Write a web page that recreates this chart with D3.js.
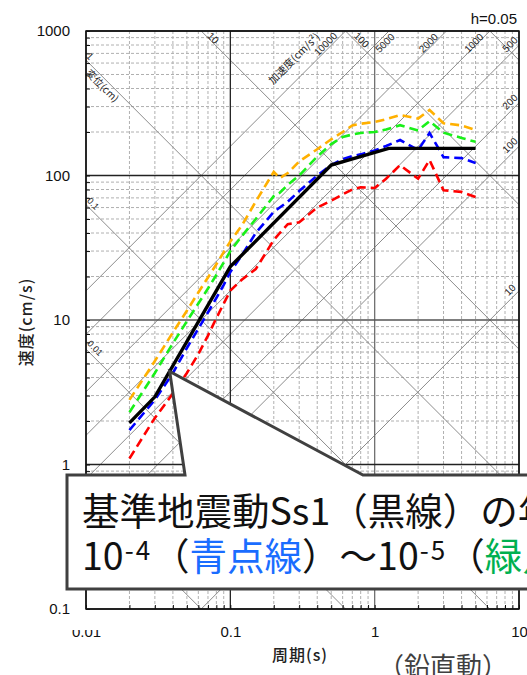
<!DOCTYPE html>
<html>
<head>
<meta charset="utf-8">
<script src="https://cdn.jsdelivr.net/npm/d3@7"></script>
<style>
  body { margin: 0; background: #fff; }
  svg { display: block; }
  .tick text { font-family: "Liberation Sans", Arial, sans-serif; }
</style>
</head>
<body>
<div id="chart"></div>
<script>
// periodes (s) communes aux spectres calcules
const periods = [0.02, 0.03, 0.04, 0.05, 0.06, 0.07, 0.08, 0.09, 0.1, 0.12, 0.15, 0.2, 0.22, 0.25,
  0.3, 0.4, 0.5, 0.6, 0.7, 0.8, 1.0, 1.2, 1.5, 2.0, 2.4, 3.0, 4.0, 5.0];

// vitesses (cm/s)
const velOrange = [2.8, 5.2, 8.2, 11.6, 15.5, 19.7, 24.3, 29.5, 35, 45, 66, 106, 96, 104,
  125, 152, 178, 200, 222, 228, 235, 245, 262, 248, 284, 230, 222, 207];
const velGreen = [2.3, 4.3, 6.9, 9.8, 13, 16.5, 20.5, 25, 30, 38, 50, 72, 76, 86,
  100, 135, 165, 185, 192, 197, 200, 208, 223, 205, 238, 198, 182, 171];
const velBlue = [1.73, 2.8, 4.3, 6.4, 8.7, 11.3, 14.2, 17.5, 21.5, 28, 40, 56, 60, 66,
  78, 100, 118, 130, 136, 140, 149, 160, 176, 150, 197, 134, 132, 122];
const velRed = [1.1, 2.1, 3.1, 4.3, 5.8, 7.8, 10.3, 13, 16, 19, 22.5, 35.8, 40, 46,
  47.5, 60, 67, 74, 80, 83, 82, 95, 118, 95, 128, 79, 77, 71];

// spectre de dimensionnement Ss1 (trait noir)
const periodsSs1 = [0.02, 0.03, 0.1, 0.5, 1.25, 5.0];
const velSs1 = [1.94, 2.94, 23.4, 118, 154, 154];

// axes
const xTickLabels = ['0.01', '0.1', '1', '10'];
const yTickLabels = ['0.1', '1', '10', '100', '1000'];

// droites diagonales : deplacement (cm) et acceleration (cm/s2)
const dispLines = [0.001, 0.01, 0.1, 1, 10, 100, 1000];
const accLines = [10, 100, 200, 500, 1000, 2000, 5000, 10000];

const W = 527, H = 675;
const margin = { top: 31, right: 8, bottom: 66, left: 86 };
const width = 433;
const height = 578;

const svg = d3.select('#chart').append('svg')
  .attr('width', W).attr('height', H);

const x = d3.scaleLog().domain([0.01, 10]).range([0, width]);
const y = d3.scaleLog().domain([0.1, 1000]).range([height, 0]);

const g = svg.append('g')
  .attr('transform', 'translate(' + margin.left + ',' + margin.top + ')');

const defs = svg.append('defs');
defs.append('clipPath').attr('id', 'plotclip')
  .append('rect').attr('width', width).attr('height', height);
// le haut du libelle 0.01 est masque dans l'original
defs.append('clipPath').attr('id', 'labelclip')
  .append('rect').attr('x', -30).attr('y', 21).attr('width', 60).attr('height', 30);

const isMajor = d => Math.abs(Math.log10(d) - Math.round(Math.log10(d))) < 1e-6;

// grille secondaire (tirets)
const xGrid = x.ticks();
const yGrid = y.ticks();

g.append('g').selectAll('line').data(xGrid.filter(d => !isMajor(d)))
  .enter().append('line')
  .attr('x1', d => x(d)).attr('x2', d => x(d))
  .attr('y1', 0).attr('y2', height)
  .attr('stroke', '#b0b0b0').attr('stroke-width', 1).attr('stroke-dasharray', '3,2');

g.append('g').selectAll('line').data(yGrid.filter(d => !isMajor(d)))
  .enter().append('line')
  .attr('x1', 0).attr('x2', width)
  .attr('y1', d => y(d)).attr('y2', d => y(d))
  .attr('stroke', '#b0b0b0').attr('stroke-width', 1).attr('stroke-dasharray', '3,2');

// droites diagonales
const diag = g.append('g').attr('clip-path', 'url(#plotclip)');
const tMin = 0.001, tMax = 100;
diag.selectAll('.disp').data(dispLines).enter().append('line')
  .attr('class', 'disp')
  .attr('x1', x(tMin)).attr('y1', d => y(2 * Math.PI * d / tMin))
  .attr('x2', x(tMax)).attr('y2', d => y(2 * Math.PI * d / tMax))
  .attr('stroke', '#8c8c8c').attr('stroke-width', 1);
diag.selectAll('.acc').data(accLines).enter().append('line')
  .attr('class', 'acc')
  .attr('x1', x(tMin)).attr('y1', d => y(d * tMin / (2 * Math.PI)))
  .attr('x2', x(tMax)).attr('y2', d => y(d * tMax / (2 * Math.PI)))
  .attr('stroke', '#8c8c8c').attr('stroke-width', 1);

// grille principale
g.append('g').selectAll('line').data(xGrid.filter(isMajor))
  .enter().append('line')
  .attr('x1', d => x(d)).attr('x2', d => x(d))
  .attr('y1', 0).attr('y2', height)
  .attr('stroke', d => d === 1 ? '#707070' : '#222').attr('stroke-width', 1.3);
g.append('g').selectAll('line').data(yGrid.filter(isMajor))
  .enter().append('line')
  .attr('x1', 0).attr('x2', width)
  .attr('y1', d => y(d)).attr('y2', d => y(d))
  .attr('stroke', d => d === 10 ? '#555' : '#222').attr('stroke-width', 1.3);

// etiquettes des diagonales
const small = '"Liberation Sans", Arial, sans-serif';
const cjk = '"Noto Sans CJK JP", sans-serif';
function diagLabel(px, py, angle, txt, font, size) {
  return g.append('text')
    .attr('transform', 'translate(' + px + ',' + py + ') rotate(' + angle + ')')
    .attr('text-anchor', 'middle').attr('dominant-baseline', 'central')
    .style('font-family', font).style('font-size', size + 'px').attr('fill', '#222')
    .text(txt);
}
// deplacement : bord gauche ou bord haut
diagLabel(4, y(2 * Math.PI * 1 / 0.01) - 4, 45, '1', small, 10);
diagLabel(17, y(2 * Math.PI * 1 / 0.01) + 25, 45, '変位(cm)', cjk, 10);
diagLabel(7, y(2 * Math.PI * 0.1 / 0.01) - 1, 45, '0.1', small, 9);
diagLabel(9, y(2 * Math.PI * 0.01 / 0.01) - 1, 45, '0.01', small, 9);
diagLabel(x(2 * Math.PI * 10 / 1000) + 12, 7, 45, '10', small, 10);
diagLabel(x(2 * Math.PI * 100 / 1000) + 16, 9, 45, '100', small, 10);
// acceleration : bord haut
diagLabel(x(1000 * 2 * Math.PI / 10000) - 20, 13, -45, '10000', small, 10);
diagLabel(x(1000 * 2 * Math.PI / 10000) - 52, 27, -45, '加速度(cm/s²)', cjk, 10.5);
diagLabel(x(1000 * 2 * Math.PI / 5000) - 4, 12, -45, '5000', small, 10);
diagLabel(x(1000 * 2 * Math.PI / 2000) - 18, 12, -45, '2000', small, 10);
diagLabel(x(1000 * 2 * Math.PI / 1000) - 16, 12, -45, '1000', small, 10);
// acceleration : bord droit
[500, 200, 100, 10].forEach(a => {
  diagLabel(width - 9, y(a * 10 / (2 * Math.PI)) - 1, -45, String(a), small, 10);
});

// courbes
const line = d3.line()
  .x(d => x(d[0]))
  .y(d => y(d[1]));

const curves = [
  { v: velOrange, color: '#ffb000' },
  { v: velGreen, color: '#19f019' },
  { v: velBlue, color: '#0000ff' },
  { v: velRed, color: '#ff0000' }
];
const curveG = g.append('g').attr('clip-path', 'url(#plotclip)');
curves.forEach(c => {
  curveG.append('path')
    .datum(periods.map((p, i) => [p, c.v[i]]))
    .attr('fill', 'none')
    .attr('stroke', c.color)
    .attr('stroke-width', 2.6)
    .attr('stroke-dasharray', '9,5')
    .attr('d', line);
});
curveG.append('path')
  .datum(periodsSs1.map((p, i) => [p, velSs1[i]]))
  .attr('fill', 'none')
  .attr('stroke', '#000')
  .attr('stroke-width', 3.4)
  .attr('d', line);

// cadre
g.append('rect').attr('width', width).attr('height', height)
  .attr('fill', 'none').attr('stroke', '#111').attr('stroke-width', 1.5);

// axe Y
const yAxis = g.append('g')
  .call(d3.axisLeft(y).tickValues(yGrid).tickSize(-4).tickPadding(16)
    .tickFormat(d => isMajor(d) ? yTickLabels[Math.round(Math.log10(d)) + 1] : ''));
yAxis.select('.domain').remove();
yAxis.selectAll('.tick line').attr('stroke', '#111');
yAxis.selectAll('text').style('font-size', '15px').attr('fill', '#111');

// axe X
const xAxis = g.append('g')
  .attr('transform', 'translate(0,' + height + ')')
  .call(d3.axisBottom(x).tickValues(xGrid).tickSize(-4).tickPadding(17)
    .tickFormat(d => isMajor(d) ? xTickLabels[Math.round(Math.log10(d)) + 2] : ''));
xAxis.select('.domain').remove();
xAxis.selectAll('.tick line').attr('stroke', '#111');
xAxis.selectAll('text').style('font-size', '15px').attr('fill', '#111');
xAxis.selectAll('.tick').filter(d => d === 0.01).select('text')
  .attr('clip-path', 'url(#labelclip)');

// titres
svg.append('text')
  .attr('transform', 'translate(32,' + (margin.top + y(10) + 2) + ') rotate(-90)')
  .attr('text-anchor', 'middle')
  .style('font-family', cjk).style('font-size', '16px').style('font-weight', '500')
  .style('letter-spacing', '1px')
  .attr('fill', '#222')
  .text('速度(cm/s)');

svg.append('text')
  .attr('x', 300).attr('y', 661)
  .attr('text-anchor', 'middle')
  .style('font-family', cjk).style('font-size', '16px').style('font-weight', '500')
  .style('letter-spacing', '1px')
  .attr('fill', '#222')
  .text('周期(s)');

svg.append('text')
  .attr('x', 517).attr('y', 24)
  .attr('text-anchor', 'end')
  .style('font-family', small).style('font-size', '15px')
  .attr('fill', '#111')
  .text('h=0.05');

svg.append('text')
  .attr('x', 443).attr('y', 676)
  .attr('text-anchor', 'middle')
  .style('font-family', cjk).style('font-size', '26px')
  .attr('fill', '#404040')
  .text('（鉛直動）');

// bulle d'annotation pointant sur le spectre Ss1
const tipX = margin.left + x(0.038), tipY = margin.top + y(4.4);
const boxL = 67, boxT = 475, boxB = 589, boxR = 560;
svg.append('path')
  .attr('d', 'M' + boxL + ',' + boxT + ' L185,' + boxT + ' L' + tipX + ',' + tipY +
    ' L363,' + boxT + ' L' + boxR + ',' + boxT + ' L' + boxR + ',' + boxB +
    ' L' + boxL + ',' + boxB + ' Z')
  .attr('fill', '#fff').attr('stroke', '#404040').attr('stroke-width', 3)
  .attr('stroke-linejoin', 'miter');

const t1 = svg.append('text').attr('x', 82).attr('y', 525)
  .style('font-family', cjk).style('font-size', '37.5px').attr('fill', '#111');
t1.append('tspan').text('基準地震動Ss1（黒線）の年超過確率は');

const t2 = svg.append('text').attr('x', 82).attr('y', 570)
  .style('font-family', cjk).style('font-size', '37.5px').attr('fill', '#111');
t2.append('tspan').text('10');
t2.append('tspan').attr('dy', -10).attr('dx', 1).style('font-size', '26px')
  .style('letter-spacing', '2px').text('-4');
t2.append('tspan').attr('dy', 10).text('（');
t2.append('tspan').attr('fill', '#1a6dff').text('青点線');
t2.append('tspan').text('）～10');
t2.append('tspan').attr('dy', -10).attr('dx', 1).style('font-size', '26px')
  .style('letter-spacing', '2px').text('-5');
t2.append('tspan').attr('dy', 10).text('（');
t2.append('tspan').attr('fill', '#00b050').text('緑点線');
t2.append('tspan').text('）程度');
</script>
</body>
</html>
